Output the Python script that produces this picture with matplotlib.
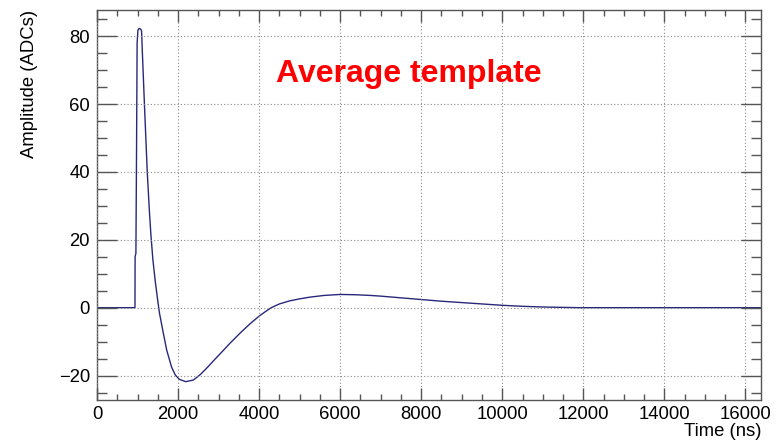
import matplotlib
matplotlib.use("Agg")
import matplotlib.pyplot as plt
from matplotlib.ticker import MultipleLocator

plt.rcParams['font.family'] = ['Liberation Sans', 'DejaVu Sans']

# Averaged pulse template: time (ns) and amplitude (ADC counts)
time_ns = [0, 500, 900, 937, 940, 960, 975, 990, 1010, 1040, 1080, 1100,
           1120, 1170, 1240, 1290, 1330, 1380, 1440, 1500, 1540, 1620,
           1720, 1840, 1930, 2030, 2190, 2380, 2540, 2700, 2910, 3100,
           3280, 3530, 3780, 4000, 4150, 4300, 4500, 4750, 5000, 5250,
           5600, 6000, 6400, 6750, 7000, 7500, 8000, 8500, 9000, 9500,
           10000, 10500, 11000, 11900, 13000, 14000, 15000, 16384]
amplitude = [0, 0, 0, 0, 15, 16, 45, 78, 81.8, 82.3, 82.0, 81.5,
             75, 60, 40, 29, 21.5, 14, 7.5, 2, -1.5, -6.5,
             -12.5, -17.5, -19.8, -21.1, -21.8, -21.3, -19.8, -17.9, -15.2, -12.8,
             -10.5, -7.5, -4.7, -2.5, -1.2, 0.0, 1.1, 2.0, 2.6, 3.1,
             3.6, 3.9, 3.8, 3.6, 3.4, 2.9, 2.4, 1.9, 1.5, 1.1,
             0.7, 0.4, 0.2, 0, 0, 0, 0, 0]

x_range = (0, 16384)
y_range = (-27.2, 87.7)
title_text = "Average template"
x_label = "Time (ns)"
y_label = "Amplitude (ADCs)"

fig = plt.figure(figsize=(7.77, 4.44), dpi=100)
ax = fig.add_axes([97 / 777, 1 - 400 / 444, (761 - 97) / 777, (400 - 10) / 444])

ax.plot(time_ns, amplitude, color='#28287a', lw=1.0)

ax.set_xlim(*x_range)
ax.set_ylim(*y_range)

ax.xaxis.set_major_locator(MultipleLocator(2000))
ax.xaxis.set_minor_locator(MultipleLocator(500))
ax.yaxis.set_major_locator(MultipleLocator(20))
ax.yaxis.set_minor_locator(MultipleLocator(5))

frame_col = '#555555'
for s in ax.spines.values():
    s.set_color(frame_col)
    s.set_linewidth(1.0)

ax.tick_params(axis='both', which='both', direction='in', top=True, right=True,
               color=frame_col, labelsize=13.3, width=1.0)
ax.tick_params(axis='x', which='major', length=8.6, pad=4)
ax.tick_params(axis='x', which='minor', length=4.3)
ax.tick_params(axis='y', which='major', length=14.4, pad=5)
ax.tick_params(axis='y', which='minor', length=7.2)

ax.grid(True, which='major', color='#8a8a8a', linestyle=(0, (1, 2)), lw=0.8)
ax.set_axisbelow(False)

ax.set_xlabel(x_label, fontsize=13.3, loc='right', labelpad=0)
ax.set_ylabel(y_label, fontsize=13.3, loc='top', labelpad=15)

ax.text(4420, 66.6, title_text, color='#ff0000', fontsize=23,
        fontweight='bold', ha='left', va='baseline')

fig.savefig("out.png", dpi=100)
